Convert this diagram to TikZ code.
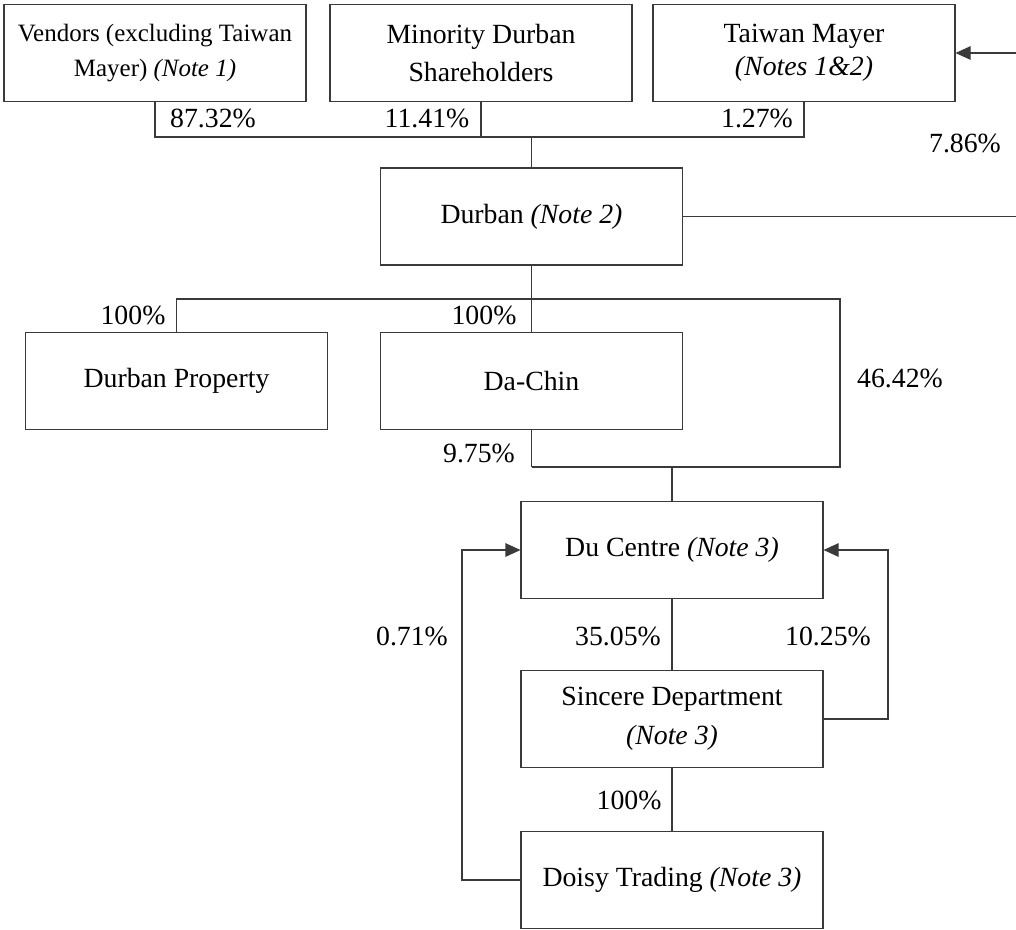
\documentclass[tikz,border=0pt]{standalone}
\usepackage{fontspec}
\setmainfont{Liberation Serif}
\usepackage{tikz}
\usetikzlibrary{arrows.meta,positioning,calc}
\definecolor{frame}{HTML}{3A3A3A}

\begin{document}
\begin{tikzpicture}[>={Triangle[length=3mm,width=2.7mm]},
  entity/.style={rectangle, draw=frame, line width=0.6pt, minimum width=6.04cm,
                 minimum height=1.94cm, inner sep=0pt, align=center,
                 font=\fontsize{15.8}{22}\selectfont},
  pct/.style={font=\fontsize{15.8}{18}\selectfont, inner sep=0pt},
  link/.style={draw=frame, line width=0.6pt}]
  \useasboundingbox (0,0) rectangle (20.32,-18.58);
  % shareholders
  \node[entity, font=\fontsize{14.2}{20}\selectfont] (vendors) at (3.10,-1.06)
       {Vendors (excluding Taiwan\\Mayer) \textit{(Note 1)}};
  \node[entity] (minority) at (9.62,-1.06) {Minority Durban\\Shareholders};
  \node[entity, font=\fontsize{15.8}{19}\selectfont] (taiwan) at (16.08,-1.06)
       {Taiwan Mayer\\\textit{(Notes 1\&2)}};
  % group
  \node[entity] (durban) at (10.63,-4.33) {Durban \textit{(Note 2)}};
  \node[entity] (property) at (3.53,-7.62) {Durban Property};
  \node[entity] (dachin) at (10.63,-7.62) {Da-Chin};
  \node[entity] (ducentre) at (13.44,-11.0) {Du Centre \textit{(Note 3)}};
  \node[entity] (sincere) at (13.44,-14.38) {Sincere Department\\\textit{(Note 3)}};
  \node[entity] (doisy) at (13.44,-17.6) {Doisy Trading \textit{(Note 3)}};
  % bars and rails
  \coordinate (topbar) at (10.63,-2.74);
  \coordinate (midbar) at (10.63,-5.98);
  \coordinate (corner) at (16.8,-5.98);
  \coordinate (lowbar) at (10.63,-9.34);
  \coordinate (edge) at (20.32,0);
  \coordinate (leftrail) at (9.24,0);
  \coordinate (rightrail) at (17.76,0);
  \draw[link] (vendors.south) |- (topbar) -| (taiwan.south);
  \draw[link] (minority.south) -- (minority.south |- topbar);
  \draw[link] (topbar) -- (durban.north);
  \draw[link] (durban.east) -- (durban.east -| edge);
  \draw[link, ->] (taiwan.east -| edge) -- (taiwan.east);
  \draw[link] (durban.south) -- (dachin.north);
  \draw[link] (property.north) |- (corner) |- (lowbar);
  \draw[link] (dachin.south) -- (lowbar);
  \draw[link] (ducentre.north) -- (ducentre.north |- lowbar);
  \draw[link] (ducentre.south) -- (sincere.north);
  \draw[link] (sincere.south) -- (doisy.north);
  \draw[link, ->] (doisy.west) -- (doisy.west -| leftrail) |- (ducentre.west);
  \draw[link, ->] (sincere.east) -- (sincere.east -| rightrail) |- (ducentre.east);
  % holdings
  \node[pct] at (4.26,-2.36) {87.32\%};
  \node[pct] at (8.54,-2.36) {11.41\%};
  \node[pct] at (15.14,-2.36) {1.27\%};
  \node[pct] at (19.30,-2.86) {7.86\%};
  \node[pct] at (2.66,-6.30) {100\%};
  \node[pct] at (9.68,-6.30) {100\%};
  \node[pct] at (18.0,-7.56) {46.42\%};
  \node[pct] at (9.58,-9.06) {9.75\%};
  \node[pct] at (8.24,-12.72) {0.71\%};
  \node[pct] at (12.36,-12.72) {35.05\%};
  \node[pct] at (16.56,-12.72) {10.25\%};
  \node[pct] at (12.58,-16.0) {100\%};
\end{tikzpicture}
\end{document}
